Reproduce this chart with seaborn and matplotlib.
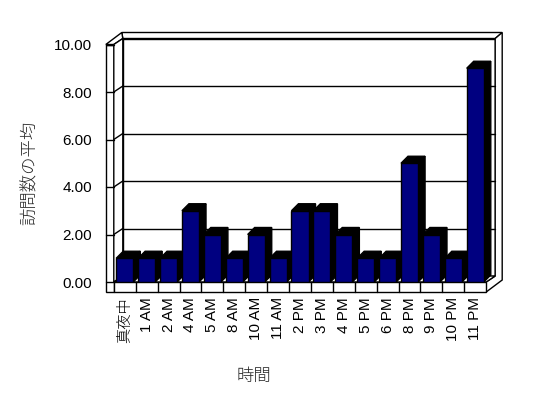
import matplotlib
matplotlib.use("Agg")
import matplotlib.pyplot as plt
from matplotlib.patches import Polygon
from matplotlib.transforms import IdentityTransform
import seaborn as sns
import numpy as np

categories = ["真夜中", "1 AM", "2 AM", "4 AM", "5 AM", "8 AM", "10 AM", "11 AM",
              "2 PM", "3 PM", "4 PM", "5 PM", "6 PM", "8 PM", "9 PM", "10 PM", "11 PM"]
values = [1, 1, 1, 3, 2, 1, 2, 1, 3, 3, 2, 1, 1, 5, 2, 1, 9]
yticks = [0, 2, 4, 6, 8, 10]
ytick_labels = ["0.00", "2.00", "4.00", "6.00", "8.00", "10.00"]
x_title = "時間"
y_title = "訪問数の平均"

sns.set_theme(style="white")
plt.rcParams['font.family'] = ['Liberation Sans', 'Noto Sans CJK JP', 'DejaVu Sans']

W, H = 548, 398
fig = plt.figure(figsize=(W / 100, H / 100), dpi=100)
fig.patch.set_facecolor("white")
ax = fig.add_axes([113.8 / W, 116 / H, 372.4 / W, 237.5 / H])
ax.set_facecolor("none")

sns.barplot(x=categories, y=values, color="#000080", saturation=1, width=0.78,
            edgecolor="black", linewidth=1, ax=ax)
ax.set_xlim(-0.5, len(categories) - 0.5)
ax.set_ylim(0, 10)
for s in ax.spines.values():
    s.set_visible(False)
ax.grid(False)

ax.set_yticks(yticks)
ax.set_yticklabels(ytick_labels)
ax.tick_params(axis="y", length=0, pad=15.7, labelsize=11, colors="black")
ax.tick_params(axis="x", length=0, pad=10.8, labelsize=11, colors="black")
for lbl in ax.get_xticklabels():
    lbl.set_rotation(90)
    lbl.set_va("top")
    lbl.set_ha("center")
    lbl.set_fontweight("light")
for lbl in ax.get_yticklabels():
    lbl.set_fontweight("light")

ax.set_ylabel(y_title, fontsize=12.5, rotation=90, ha="center", va="center",
              family=['Noto Sans CJK JP', 'DejaVu Sans'], fontweight="light")
ax.yaxis.set_label_coords((29.5 - 113.8) / 372.4, (282 - 173) / 237.5)
ax.set_xlabel(x_title, fontsize=12.5, ha="center", va="center",
              family=['Noto Sans CJK JP', 'DejaVu Sans'], fontweight="light")
ax.xaxis.set_label_coords((253.5 - 113.8) / 372.4, (282 - 376) / 237.5)

# geometry helpers (display pixels, y up)
d1 = np.array([9.0, 6.0])     # depth to back wall front face
d2 = np.array([16.0, 12.0])   # depth to back wall outer face
bd = np.array([7.0, 7.0])     # bar depth
wall = np.array([-8.0, 0.0])  # left wall thickness
slab = np.array([0.0, -10.0]) # floor thickness

def P(x, y, *offs):
    p = ax.transData.transform((x, y)).astype(float)
    for o in offs:
        p = p + o
    return p

ident = IdentityTransform()

def poly(pts, fc="white", z=0.5, lw=1.0):
    ax.add_patch(Polygon(np.array(pts), closed=True, facecolor=fc, edgecolor="black",
                         linewidth=lw, transform=ident, clip_on=False, zorder=z))

def line(p, q, z=0.6):
    ax.add_line(plt.Line2D([p[0], q[0]], [p[1], q[1]], color="black", linewidth=1,
                           transform=ident, clip_on=False, zorder=z))

L, R = -0.5, len(categories) - 0.5
T, B = 10, 0

# back wall front face
poly([P(L, B, d1), P(R, B, d1), P(R, T, d1), P(L, T, d1)])
# back wall top
poly([P(L, T, d1), P(R, T, d1), P(R, T, d2), P(L, T, wall, d2)])
# right side of back wall + floor
poly([P(R, T, d1), P(R, T, d2), P(R, B, slab, d2), P(R, B, slab), P(R, B), P(R, B, d1)])
# left wall front face
poly([P(L, T, wall), P(L, T), P(L, B, slab), P(L, B, wall, slab)])
# left wall top
poly([P(L, T, wall), P(L, T), P(L, T, d1), P(L, T, wall, d2)])
# left wall inner face
poly([P(L, T), P(L, T, d1), P(L, B, d1), P(L, B)])
# floor top
poly([P(L, B), P(R, B), P(R, B, d1), P(L, B, d1)])
# floor front face
poly([P(L, B), P(R, B), P(R, B, slab), P(L, B, slab)])
for k in range(1, len(categories)):
    line(P(k - 0.5, B), P(k - 0.5, B, slab))

# gridlines and ticks
for v in yticks:
    line(P(L, v, wall), P(L, v))
    if 0 < v < T:
        line(P(L, v), P(L, v, d1))
        line(P(L, v, d1), P(R, v, d1))

# 3D bars
for i, p in enumerate(ax.patches[:len(values)]):
    x0, w, h = p.get_x(), p.get_width(), p.get_height()
    z = 2 + i * 0.01
    poly([P(x0 + w, 0), P(x0 + w, h), P(x0 + w, h, bd), P(x0 + w, 0, bd)], fc="black", z=z)
    poly([P(x0, h), P(x0 + w, h), P(x0 + w, h, bd), P(x0, h, bd)], fc="black", z=z)
    p.set_zorder(z + 0.005)

fig.savefig("out.png", dpi=100, facecolor="white")
